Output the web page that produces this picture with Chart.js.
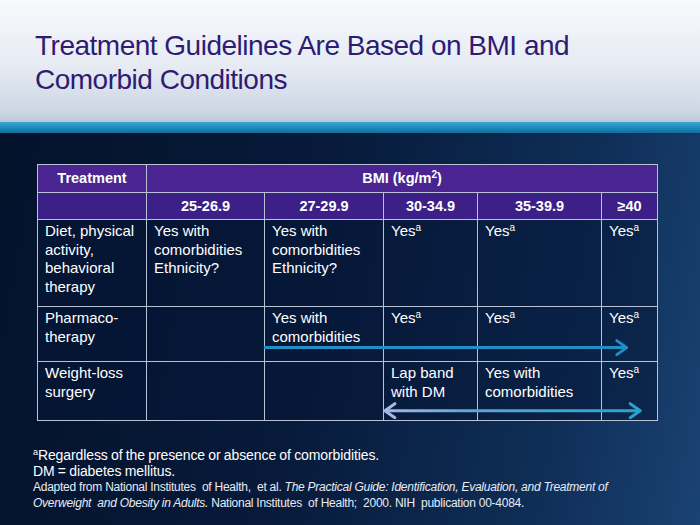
<!DOCTYPE html>
<html>
<head>
<meta charset="utf-8">
<script src="https://cdn.jsdelivr.net/npm/chart.js@4.4.1/dist/chart.umd.min.js"></script>
<style>
  body { margin: 0; width: 700px; height: 525px; overflow: hidden; font-family: "Liberation Sans", Arial, sans-serif; }
  #slide { position: relative; width: 700px; height: 525px;
    background: linear-gradient(100deg, #04122b 0%, #071a3a 45%, #0f2f58 80%, #1a4273 100%); }
  #top { position: absolute; left: 0; top: 0; width: 700px; height: 122px;
    background: linear-gradient(180deg, #f7f9fc 0%, #e6ebf3 55%, #cdd6e4 92%, #bcc6d6 100%); }
  #band { position: absolute; left: 0; top: 122px; width: 700px; height: 11px;
    background: linear-gradient(180deg, #3aa5d2 0%, #1a86b8 60%, #126e9c 100%); }
  #title { position: absolute; left: 35px; top: 29px; font-size: 28px; line-height: 34px; color: #2f1c72; letter-spacing: -0.5px; }
  table { position: absolute; left: 37px; top: 164px; border-collapse: collapse; table-layout: fixed; color: #fff; }
  td, th { border: 1.5px solid #b8c2d4; padding: 0 7px; vertical-align: top; font-size: 15px; line-height: 18.5px; white-space: pre-line; text-align: left; font-weight: normal; }
  th { font-weight: bold; text-align: center; vertical-align: middle; font-size: 14.5px; }
  tr.h1 th { background: #4a2592; height: 27px; }
  tr.h2 th { background: #3d1f88; height: 26px; }
  td { background: rgba(5, 22, 55, 0.55); padding-top: 2px; }
  sup { font-size: 10px; line-height: 0; vertical-align: 5px; }
  #arrows { position: absolute; left: 37px; top: 164px; width: 620px; height: 255px; pointer-events: none; }
  #notes { position: absolute; left: 33px; top: 447px; color: #fff; }
  .n1 { font-size: 14px; letter-spacing: -0.1px; word-spacing: -0.5px; line-height: 16px; }
  .n2 { font-size: 12px; letter-spacing: -0.25px; line-height: 16px; color: #e8ecf4; }
</style>
</head>
<body>
<div id="slide">
  <div id="top"></div>
  <div id="band"></div>
  <div id="title">Treatment Guidelines Are Based on BMI and<br>Comorbid Conditions</div>
  <table id="tbl"></table>
  <div id="arrows"><canvas id="arrowCanvas" width="620" height="255"></canvas></div>
  <div id="notes">
    <div class="n1"><sup style="font-size:9px">a</sup>Regardless of the presence or absence of comorbidities.</div>
    <div class="n1">DM = diabetes mellitus.</div>
    <div class="n2">Adapted from National Institutes &nbsp;of Health, &nbsp;et al. <i>The Practical Guide: Identification, Evaluation, and Treatment of</i></div>
    <div class="n2"><i>Overweight &nbsp;and Obesity in Adults.</i> National Institutes &nbsp;of Health; &nbsp;2000. NIH &nbsp;publication 00-4084.</div>
  </div>
</div>
<script>
// table content
const headTreatment = 'Treatment';
const headBmi = 'BMI (kg/m<sup>2</sup>)';
const bmiRanges = ['25-26.9', '27-29.9', '30-34.9', '35-39.9', '≥40'];
const treatments = ['Diet, physical\nactivity,\nbehavioral\ntherapy', 'Pharmaco-\ntherapy', 'Weight-loss\nsurgery'];
const dietCells = ['Yes with\ncomorbidities\nEthnicity?', 'Yes with\ncomorbidities\nEthnicity?', 'Yes<sup>a</sup>', 'Yes<sup>a</sup>', 'Yes<sup>a</sup>'];
const pharmaCells = ['', 'Yes with\ncomorbidities', 'Yes<sup>a</sup>', 'Yes<sup>a</sup>', 'Yes<sup>a</sup>'];
const surgeryCells = ['', '', 'Lap band\nwith DM', 'Yes with\ncomorbidities', 'Yes<sup>a</sup>'];

// arrows: row, start column (index in bmiRanges) + fraction, end column + fraction
const arrowRows = [1, 2];
const arrowFrom = [1.0, 2.02];
const arrowTo = [4.46, 4.7];
const arrowRowPos = [0.78, 0.86];   // height inside the row
const arrowDouble = [false, true];

// layout
const colWidths = [109, 118, 119, 94, 124, 56];
const rowHeights = [27, 26, 87, 55, 59];

let tbl = document.getElementById('tbl');
let html = '<colgroup>';
for (let w of colWidths) html += '<col style="width:' + w + 'px">';
html += '</colgroup>';
html += '<tr class="h1"><th>' + headTreatment + '</th><th colspan="5">' + headBmi + '</th></tr>';
html += '<tr class="h2"><th></th>' + bmiRanges.map(r => '<th>' + r + '</th>').join('') + '</tr>';
let bodyRows = [dietCells, pharmaCells, surgeryCells];
for (let i = 0; i < bodyRows.length; i++) {
    html += '<tr style="height:' + rowHeights[i + 2] + 'px"><td>' + treatments[i] + '</td>' +
        bodyRows[i].map(c => '<td>' + c + '</td>').join('') + '</tr>';
}
tbl.innerHTML = html;

// column edges and row edges (px inside table)
let colEdges = [0];
for (let w of colWidths) colEdges.push(colEdges[colEdges.length - 1] + w);
let rowEdges = [0];
for (let h of rowHeights) rowEdges.push(rowEdges[rowEdges.length - 1] + h);

function colToX(c) {
    let i = Math.floor(c) + 1;  // +1 skips the treatment column
    return colEdges[i] + (c - Math.floor(c)) * colWidths[i];
}
function rowToY(r, f) {
    let i = r + 2;
    return rowEdges[i] + f * rowHeights[i];
}

let datasets = arrowRows.map((r, k) => ({
    data: [{ x: colToX(arrowFrom[k]), y: rowToY(r, arrowRowPos[k]) },
           { x: colToX(arrowTo[k]), y: rowToY(r, arrowRowPos[k]) }],
    double: arrowDouble[k],
    borderWidth: 3,
    pointRadius: 0,
    borderColor: function (ctx) {
        if (!arrowDouble[k]) return '#1f8fc6';
        let area = ctx.chart.chartArea;
        if (!area) return '#2b9cc8';
        let g = ctx.chart.ctx.createLinearGradient(colToX(arrowFrom[k]), 0, colToX(arrowTo[k]), 0);
        g.addColorStop(0, '#a7b6e3');
        g.addColorStop(0.35, '#5aa6d6');
        g.addColorStop(1, '#2aa3cc');
        return g;
    }
}));

const arrowHeads = {
    id: 'arrowHeads',
    afterDatasetsDraw(chart) {
        let c = chart.ctx;
        chart.data.datasets.forEach((ds, k) => {
            let pts = chart.getDatasetMeta(k).data;
            let p1 = pts[1], p0 = pts[0];
            c.save();
            c.lineWidth = 3;
            c.lineCap = 'round';
            c.lineJoin = 'round';
            c.strokeStyle = ds.double ? '#2aa3cc' : '#1f8fc6';
            c.beginPath();
            c.moveTo(p1.x - 10, p1.y - 7);
            c.lineTo(p1.x, p1.y);
            c.lineTo(p1.x - 10, p1.y + 7);
            c.stroke();
            if (ds.double) {
                c.strokeStyle = '#a7b6e3';
                c.beginPath();
                c.moveTo(p0.x + 10, p0.y - 7);
                c.lineTo(p0.x, p0.y);
                c.lineTo(p0.x + 10, p0.y + 7);
                c.stroke();
            }
            c.restore();
        });
    }
};

new Chart(document.getElementById('arrowCanvas'), {
    type: 'line',
    data: { datasets: datasets },
    options: {
        responsive: false,
        animation: false,
        layout: { padding: 0 },
        plugins: { legend: { display: false }, tooltip: { enabled: false } },
        scales: {
            x: { type: 'linear', min: 0, max: colEdges[colEdges.length - 1], display: false },
            y: { type: 'linear', min: 0, max: rowEdges[rowEdges.length - 1], reverse: true, display: false }
        }
    },
    plugins: [arrowHeads]
});
</script>
</body>
</html>
